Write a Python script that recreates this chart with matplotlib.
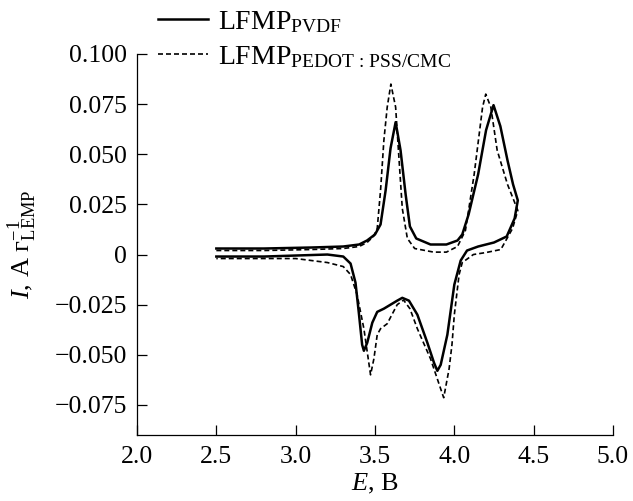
import matplotlib
matplotlib.use("Agg")
import numpy as np
import matplotlib.pyplot as plt
from matplotlib.ticker import FuncFormatter

plt.rcParams['font.family'] = ['Liberation Serif', 'DejaVu Serif']
plt.rcParams['mathtext.fontset'] = 'custom'
plt.rcParams['mathtext.rm'] = 'Liberation Serif'
plt.rcParams['mathtext.it'] = 'Liberation Serif:italic'
plt.rcParams['axes.unicode_minus'] = True

# PVDF binder: anodic sweep (2.5 -> 4.4 V), then cathodic sweep back
pvdf_e_up = [2.50, 2.80, 3.10, 3.30, 3.40, 3.45, 3.50, 3.535, 3.567, 3.598, 3.63,
             3.661, 3.693, 3.72, 3.76, 3.85, 3.95, 4.02, 4.05, 4.09, 4.15, 4.20,
             4.247, 4.29, 4.335, 4.37, 4.40]
pvdf_i_up = [0.003, 0.003, 0.0035, 0.004, 0.005, 0.007, 0.010, 0.015, 0.032, 0.053,
             0.066, 0.052, 0.030, 0.014, 0.008, 0.005, 0.005, 0.007, 0.010, 0.020,
             0.040, 0.062, 0.0745, 0.064, 0.047, 0.035, 0.027]
pvdf_e_down = [4.40, 4.38, 4.33, 4.25, 4.15, 4.08, 4.04, 4.02, 4.00, 3.956, 3.914,
               3.893, 3.872, 3.83, 3.767, 3.714, 3.672, 3.64, 3.598, 3.556, 3.514,
               3.483, 3.451, 3.43, 3.419, 3.398, 3.377, 3.346, 3.30, 3.20, 3.00,
               2.80, 2.50]
pvdf_i_down = [0.027, 0.018, 0.009, 0.006, 0.004, 0.002, -0.003, -0.009, -0.015,
               -0.040, -0.055, -0.058, -0.054, -0.044, -0.030, -0.023, -0.0216,
               -0.023, -0.025, -0.027, -0.0286, -0.034, -0.044, -0.048, -0.045,
               -0.029, -0.014, -0.0045, -0.001, 0.000, -0.0005, -0.001, -0.001]

# PEDOT:PSS/CMC binder
pedot_e_up = [2.50, 2.80, 3.10, 3.30, 3.40, 3.45, 3.49, 3.514, 3.535, 3.556, 3.577,
              3.60, 3.63, 3.651, 3.672, 3.704, 3.75, 3.87, 3.95, 4.02, 4.07, 4.125,
              4.178, 4.198, 4.23, 4.27, 4.335, 4.39, 4.40]
pedot_i_up = [0.002, 0.002, 0.0025, 0.003, 0.004, 0.006, 0.009, 0.013, 0.032, 0.057,
              0.0735, 0.085, 0.0735, 0.048, 0.023, 0.008, 0.003, 0.0012, 0.0012,
              0.004, 0.012, 0.040, 0.0735, 0.080, 0.0735, 0.052, 0.035, 0.024, 0.022]
pedot_e_down = [4.40, 4.367, 4.293, 4.20, 4.12, 4.05, 4.03, 4.015, 4.00, 3.985,
                3.967, 3.933, 3.914, 3.85, 3.80, 3.767, 3.72, 3.68, 3.64, 3.60,
                3.577, 3.535, 3.514, 3.493, 3.472, 3.461, 3.43, 3.387, 3.346, 3.30,
                3.20, 3.00, 2.50]
pedot_i_down = [0.022, 0.013, 0.0025, 0.001, 0.000, -0.004, -0.010, -0.020, -0.030,
                -0.045, -0.057, -0.0714, -0.067, -0.052, -0.043, -0.037, -0.027,
                -0.0227, -0.025, -0.031, -0.0345, -0.037, -0.040, -0.052, -0.060,
                -0.054, -0.037, -0.020, -0.010, -0.006, -0.004, -0.002, -0.002]

x_ticks = [2.0, 2.5, 3.0, 3.5, 4.0, 4.5, 5.0]
y_ticks = [-0.075, -0.050, -0.025, 0, 0.025, 0.050, 0.075, 0.100]

fig = plt.figure(figsize=(6.33, 5.01), dpi=100)
ax = fig.add_axes([137 / 633, 1 - 435 / 501, (613 - 137) / 633, (435 - 54) / 501])

ax.plot(pvdf_e_up + pvdf_e_down, pvdf_i_up + pvdf_i_down, color='black', lw=1.8,
        label=r'LFMP$_{\mathrm{PVDF}}$')
ax.plot(pedot_e_up + pedot_e_down, pedot_i_up + pedot_i_down, color='black', lw=1.2,
        ls=(0, (3, 1.8)), label=r'LFMP$_{\mathrm{PEDOT\,:\,PSS/CMC}}$')

ax.set_xlim(2.0, 5.0)
ax.set_ylim(-0.09, 0.100)
ax.set_xticks(x_ticks)
ax.set_yticks(y_ticks)
ax.xaxis.set_major_formatter(FuncFormatter(lambda v, p: f'{v:.1f}'))
ax.yaxis.set_major_formatter(
    FuncFormatter(lambda v, p: '0' if abs(v) < 1e-9 else f'{v:.3f}'.replace('-', '\u2212')))
for s in ['top', 'right']:
    ax.spines[s].set_visible(False)
for s in ['left', 'bottom']:
    ax.spines[s].set_linewidth(0.9)
ax.tick_params(direction='in', length=7, width=0.9, labelsize=18.5)
ax.tick_params(axis='y', pad=7)
ax.tick_params(axis='x', pad=8)

ax.set_xlabel(r'$E$, В', fontsize=19, labelpad=3)
ax.set_ylabel(r'$I$, А г$^{-1}_{\mathrm{LEMP}}$', fontsize=19)
ax.yaxis.set_label_coords(-0.205, 0.5)

fig.legend(loc='upper left', bbox_to_anchor=(158 / 633, 1 - 9 / 501), frameon=False,
           fontsize=20, handlelength=1.8, handletextpad=0.36, labelspacing=0.32,
           borderpad=0, borderaxespad=0)

fig.savefig('out.png', dpi=100)
